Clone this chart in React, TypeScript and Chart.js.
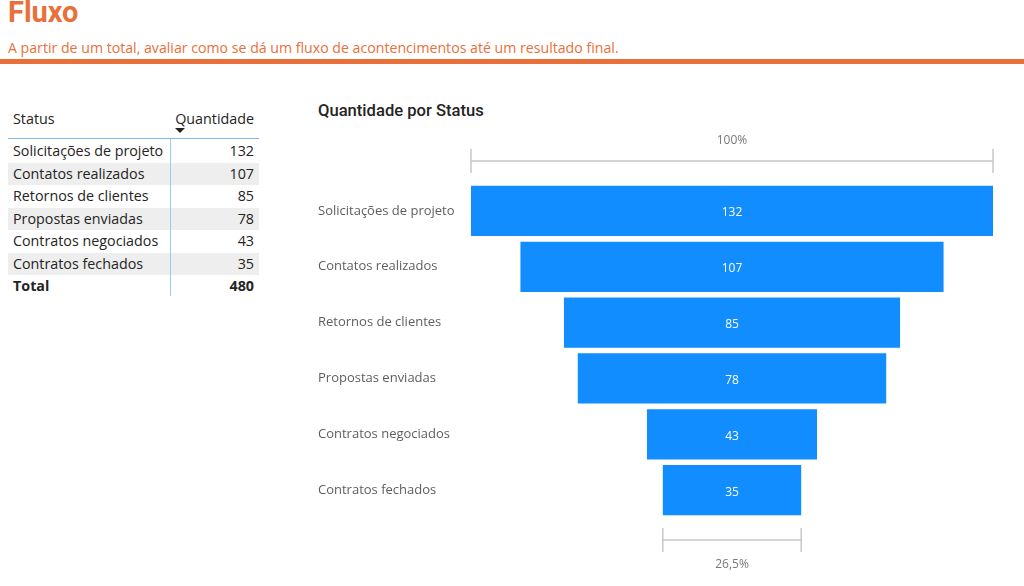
import React, { useEffect, useRef } from "react";
import { Chart, registerables } from "chart.js";

Chart.register(...registerables);

const pageTitle = "Fluxo";
const pageSubtitle = "A partir de um total, avaliar como se dá um fluxo de acontencimentos até um resultado final.";
const chartTitle = "Quantidade por Status";
const tableHeaders = ["Status", "Quantidade"];
const totalLabel = "Total";
const categories = [
  "Solicitações de projeto",
  "Contatos realizados",
  "Retornos de clientes",
  "Propostas enviadas",
  "Contratos negociados",
  "Contratos fechados",
];
const values = [132, 107, 85, 78, 43, 35];

const ORANGE = "#E8703A";
const BLUE = "#118DFF";
const UI_FONT = '"Segoe UI", "Open Sans", "Noto Sans", sans-serif';
const total = values.reduce((a, b) => a + b, 0);
const fmtPct = (p: number) =>
  (Math.round(p * 10) / 10).toFixed(1).replace(".", ",").replace(",0", "") + "%";

const funnelPlugin = {
  id: "funnelDecor",
  afterDatasetsDraw(chart: any) {
    const ctx = chart.ctx as CanvasRenderingContext2D;
    const meta = chart.getDatasetMeta(0);
    const xs = chart.scales.x;
    const area = chart.chartArea;
    const cx = xs.getPixelForValue(0);
    ctx.save();
    ctx.font = `12px ${UI_FONT}`;
    ctx.fillStyle = "#ffffff";
    ctx.textAlign = "center";
    ctx.textBaseline = "middle";
    meta.data.forEach((bar: any, i: number) => {
      ctx.fillText(String(values[i]), cx, bar.y + 2);
    });

    const drawBracket = (l: number, r: number, y: number) => {
      ctx.strokeStyle = "#C8C8C8";
      ctx.lineWidth = 1.5;
      ctx.beginPath();
      ctx.moveTo(l, y);
      ctx.lineTo(r, y);
      ctx.moveTo(l, y - 12);
      ctx.lineTo(l, y + 12);
      ctx.moveTo(r, y - 12);
      ctx.lineTo(r, y + 12);
      ctx.stroke();
    };
    const first = values[0];
    const last = values[values.length - 1];
    const yTop = area.top - 22;
    drawBracket(xs.getPixelForValue(-first / 2), xs.getPixelForValue(first / 2), yTop);
    const yBot = area.bottom + 22;
    drawBracket(xs.getPixelForValue(-last / 2), xs.getPixelForValue(last / 2), yBot);

    ctx.fillStyle = "#777777";
    ctx.font = `12px ${UI_FONT}`;
    ctx.fillText("100%", cx, yTop - 20);
    ctx.fillText(fmtPct((last / first) * 100), cx, yBot + 25);
    ctx.restore();
  },
};

export default function App() {
  const canvasRef = useRef<HTMLCanvasElement | null>(null);

  useEffect(() => {
    document.body.style.margin = "0";
    const canvas = canvasRef.current;
    if (!canvas) return;
    const maxV = Math.max(...values);
    const chart = new Chart(canvas, {
      type: "bar",
      data: {
        labels: categories,
        datasets: [
          {
            data: values.map((v) => [-v / 2, v / 2]) as any,
            backgroundColor: BLUE,
            barPercentage: 0.9,
            categoryPercentage: 1,
            borderSkipped: false,
          },
        ],
      },
      options: {
        indexAxis: "y",
        animation: false,
        responsive: false,
        maintainAspectRatio: false,
        layout: { padding: { left: 8, right: 31, top: 88, bottom: 68 } },
        plugins: { legend: { display: false }, tooltip: { enabled: false } },
        scales: {
          x: { display: false, min: -maxV / 2, max: maxV / 2 },
          y: {
            grid: { display: false },
            border: { display: false },
            ticks: {
              crossAlign: "far",
              color: "#605E5C",
              font: { family: UI_FONT, size: 13 },
            },
            afterFit: (s: any) => {
              s.width = 153;
            },
          },
        },
      },
      plugins: [funnelPlugin],
    });
    return () => chart.destroy();
  }, []);

  const rowTop = 140;
  const rowH = 22.5;
  const fs = 14.3;

  return (
    <div style={{ position: "absolute", left: 0, top: 0, width: 1024, height: 586, background: "#fff", overflow: "hidden", fontFamily: UI_FONT }}>
      <div style={{ position: "absolute", left: 8, top: -5, fontSize: 29, fontWeight: 700, color: ORANGE, fontFamily: 'Roboto, "DejaVu Sans", sans-serif' }}>{pageTitle}</div>
      <div style={{ position: "absolute", left: 8, top: 38, fontSize: 14.15, color: ORANGE, whiteSpace: "nowrap" }}>{pageSubtitle}</div>
      <div style={{ position: "absolute", left: 0, top: 59, width: 1024, height: 5, background: ORANGE }} />

      {/* table */}
      <div style={{ position: "absolute", left: 13, top: 109, fontSize: fs, color: "#252423" }}>{tableHeaders[0]}</div>
      <div style={{ position: "absolute", right: 1024 - 254, top: 109, fontSize: fs, color: "#252423" }}>{tableHeaders[1]}</div>
      <div style={{ position: "absolute", left: 175, top: 128, width: 0, height: 0, borderLeft: "5px solid transparent", borderRight: "5px solid transparent", borderTop: "5px solid #222" }} />
      <div style={{ position: "absolute", left: 8, top: 138, width: 251, height: 1, background: "#7DB8E8" }} />
      {categories.map((c, i) => (
        <div key={c} style={{ position: "absolute", left: 8, top: rowTop + i * rowH, width: 251, height: rowH, background: i % 2 === 1 ? "#EEEEEE" : "transparent" }}>
          <div style={{ position: "absolute", left: 5, top: 0, lineHeight: rowH + "px", fontSize: fs, color: "#252423", whiteSpace: "nowrap" }}>{c}</div>
          <div style={{ position: "absolute", right: 5, top: 0, lineHeight: rowH + "px", fontSize: fs, color: "#252423" }}>{values[i]}</div>
        </div>
      ))}
      <div style={{ position: "absolute", left: 8, top: rowTop + 6 * rowH, width: 251, height: rowH }}>
        <div style={{ position: "absolute", left: 5, top: 0, lineHeight: rowH + "px", fontSize: fs, fontWeight: 700, color: "#252423" }}>{totalLabel}</div>
        <div style={{ position: "absolute", right: 5, top: 0, lineHeight: rowH + "px", fontSize: fs, fontWeight: 700, color: "#252423" }}>{total}</div>
      </div>
      <div style={{ position: "absolute", left: 170, top: 139, width: 1, height: 157, background: "#9CC9EE" }} />

      {/* funnel */}
      <div style={{ position: "absolute", left: 318, top: 101, fontSize: 16.6, fontWeight: 500, color: "#252423", fontFamily: 'Roboto, "Open Sans", sans-serif' }}>{chartTitle}</div>
      <canvas ref={canvasRef} width={714} height={491} style={{ position: "absolute", left: 310, top: 95, width: 714, height: 491 }} />
    </div>
  );
}
